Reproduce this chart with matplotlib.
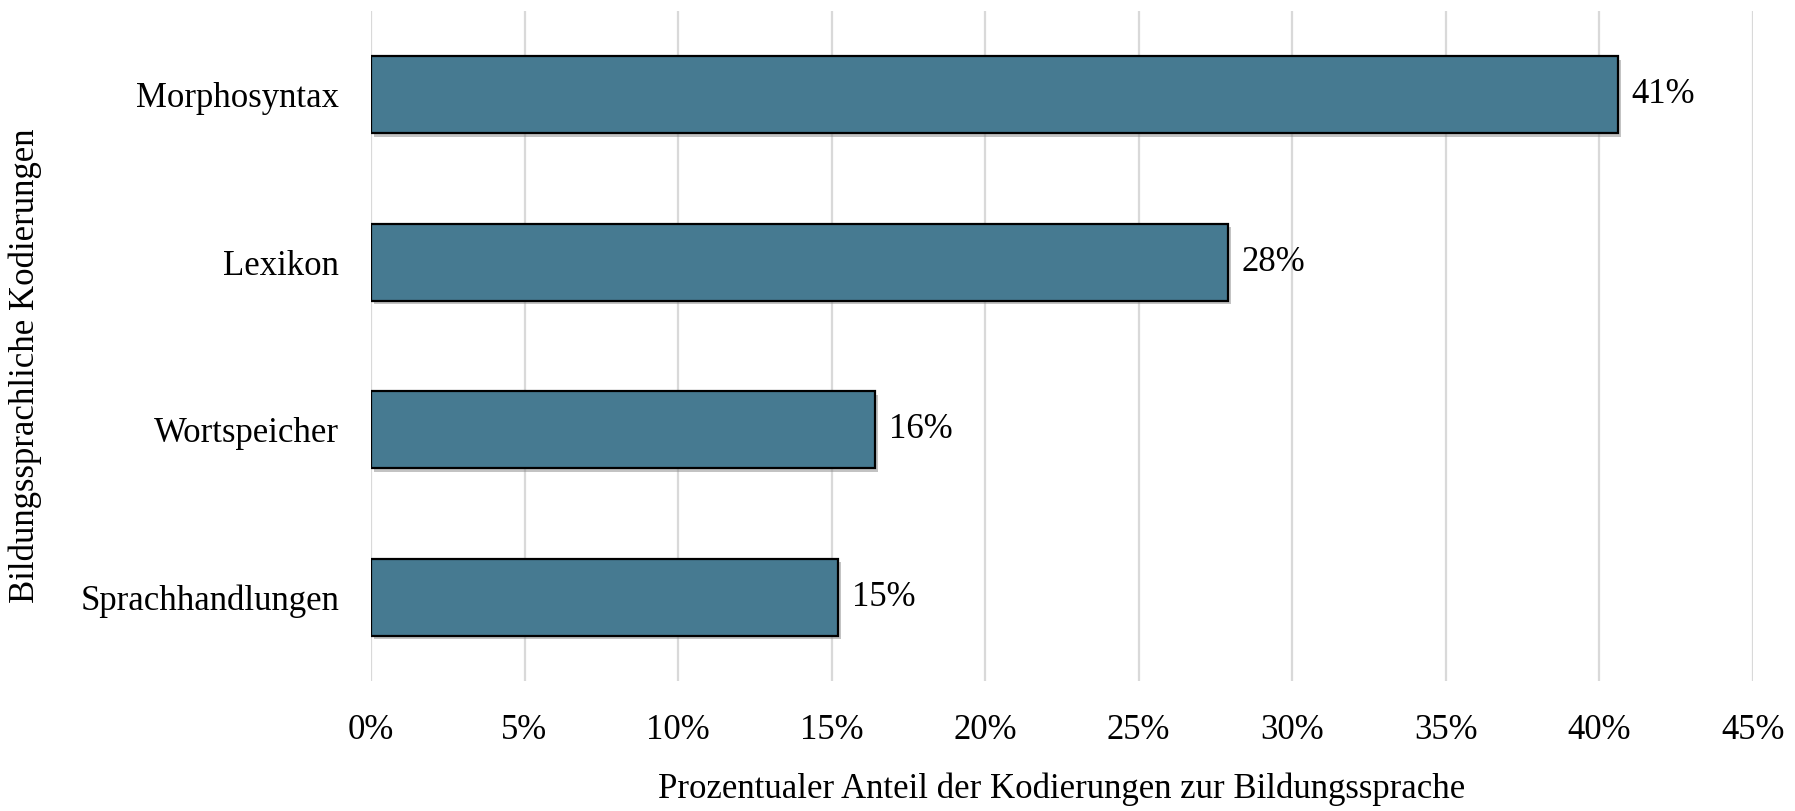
import numpy as np
import matplotlib.pyplot as plt
import matplotlib.patheffects as pe
from matplotlib.ticker import FuncFormatter, MultipleLocator

plt.rcParams['font.family'] = ['Liberation Serif', 'DejaVu Serif']

kategorien = ['Morphosyntax', 'Lexikon', 'Wortspeicher', 'Sprachhandlungen']
anteile = [40.6, 27.9, 16.4, 15.2]  # Prozent

fig = plt.figure(figsize=(17.95, 8.11), dpi=100)
ax = fig.add_axes([0.2067, 0.1603, 0.7698, 0.8261])

pos = np.arange(len(kategorien))
balken = ax.barh(pos, anteile, height=0.46, color='#467a91', edgecolor='black',
                 linewidth=1.6, zorder=3)
for b in balken:
    b.set_path_effects([pe.SimplePatchShadow(offset=(2.5, -2.5), shadow_rgbFace='#888888', alpha=0.5),
                        pe.Normal()])

for p, v in zip(pos, anteile):
    ax.annotate(f'{v:.0f}%', xy=(v, p), xytext=(10, 0), textcoords='offset points',
                va='center', ha='left', fontsize=25)

ax.set_xlim(0, 45)
ax.set_ylim(3.5, -0.5)
ax.xaxis.set_major_locator(MultipleLocator(5))
ax.xaxis.set_major_formatter(FuncFormatter(lambda x, _: f'{x:.0f}%'))
ax.set_yticks(pos)
ax.set_yticklabels(kategorien)
ax.tick_params(axis='both', length=0, labelsize=25)
ax.tick_params(axis='x', pad=24)
ax.tick_params(axis='y', pad=23)
ax.grid(axis='x', color='#d9d9d9', linewidth=1.6, zorder=0)
ax.set_axisbelow(True)
for s in ax.spines.values():
    s.set_visible(False)

ax.set_xlabel('Prozentualer Anteil der Kodierungen zur Bildungssprache', fontsize=25, labelpad=18)
ax.set_ylabel('Bildungssprachliche Kodierungen', fontsize=25)
ax.yaxis.set_label_coords(-0.238, 0.47)

fig.savefig('out.png', dpi=100)
